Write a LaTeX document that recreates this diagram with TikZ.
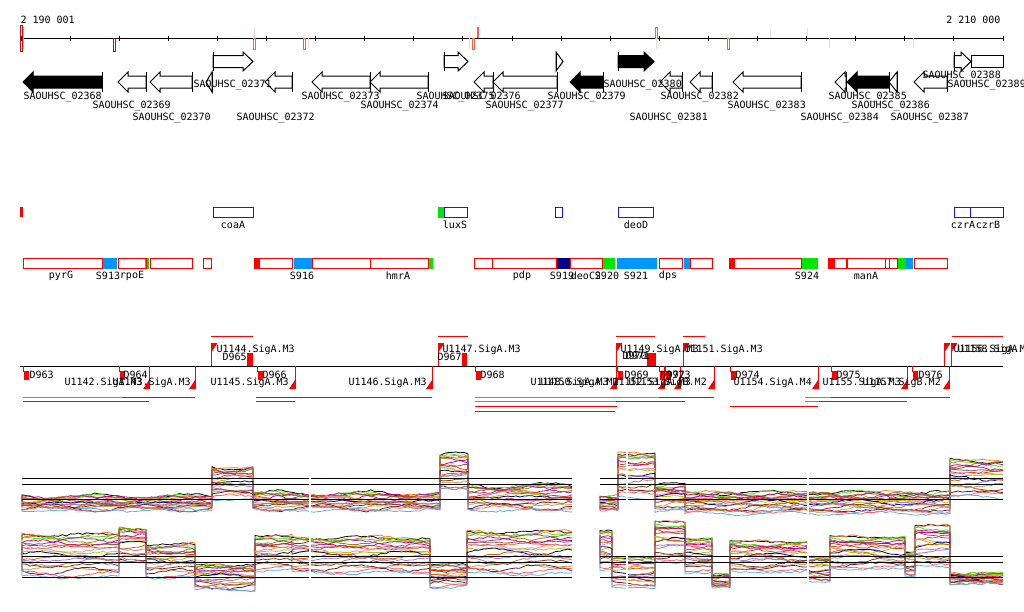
\documentclass[tikz,border=0pt]{standalone}
\usepackage{fontspec}
\newfontfamily\monofont{DejaVu Sans Mono}
\usetikzlibrary{positioning}
\definecolor{deepred}{RGB}{180,20,20}
\definecolor{salmon}{RGB}{240,100,70}
\definecolor{palered}{RGB}{245,215,200}
\definecolor{annblue}{RGB}{20,20,255}
\definecolor{featblue}{RGB}{0,150,255}
\definecolor{featgreen}{RGB}{0,230,0}
\definecolor{featnavy}{RGB}{0,0,140}
% colours of the expression series
\definecolor{sA}{RGB}{230,120,40}
\definecolor{sB}{RGB}{90,220,30}
\definecolor{sC}{RGB}{150,140,0}
\definecolor{sD}{RGB}{150,50,150}
\definecolor{sE}{RGB}{200,0,120}
\definecolor{sF}{RGB}{140,90,60}
\definecolor{sG}{RGB}{90,175,235}
\definecolor{sH}{RGB}{230,60,30}
\definecolor{sI}{RGB}{230,140,180}
\definecolor{sJ}{RGB}{170,200,0}
\definecolor{sK}{RGB}{0,0,110}
\definecolor{sL}{RGB}{210,100,0}
\definecolor{sM}{RGB}{170,120,210}
\definecolor{sN}{RGB}{190,120,120}
\definecolor{sO}{RGB}{120,60,20}
\definecolor{sP}{RGB}{200,160,60}
\definecolor{sQ}{RGB}{100,30,60}
\definecolor{sR}{RGB}{250,90,90}
\newcommand{\revgene}[3][white]{%
   % reverse strand gene: start, end
   \pgfmathsetmacro{\hd}{min(10,#3-#2)}
   \filldraw[fill=#1] (#2,82) -- (#2+\hd,72) -- (#2+\hd,76) -- (#3,76)
      -- (#3,88) -- (#2+\hd,88) -- (#2+\hd,92) -- cycle;
   \draw (#3,72) -- (#3,92);
}
\newcommand{\fwdgene}[3][white]{%
   % forward strand gene: start, end
   \pgfmathsetmacro{\hd}{min(10,#3-#2)}
   \filldraw[fill=#1] (#3,61.5) -- (#3-\hd,52) -- (#3-\hd,55.5) -- (#2,55.5)
      -- (#2,67.5) -- (#3-\hd,67.5) -- (#3-\hd,71) -- cycle;
   \draw (#2,52) -- (#2,71);
}
\newcommand{\tssdn}[1]{%
   \draw[red] (#1,366) -- (#1,389);
   \fill[red] (#1,380) -- (#1,389) -- (#1-6,389) -- cycle;
}
\newcommand{\tssup}[1]{%
   \draw[red] (#1,366) -- (#1,343);
   \fill[red] (#1,343) -- (#1+6,343) -- (#1,352) -- cycle;
}
\newcommand{\dmark}[1]{%
   \draw[red] (#1,366) -- (#1,372);
   \fill[red] (#1+1,371) rectangle (#1+6,380);
}
\newcommand{\profile}[3]{%
   % start x, start y, segments x1/x2/level/spread/samples
   \foreach \scol [count=\i] in {black,sA,sB,sC,sD,sE,sF,sH,sI,sJ,sK,sL,sM,sN,sO,sP,sQ,sR,sG}{
      \pgfmathsetmacro{\k}{((\i-1)/18)^1.3}
      \pgfmathsetmacro{\ph}{rnd*360}
      \pgfmathsetmacro{\amp}{0.5+rnd*3}
      \draw[\scol, line width=0.8pt] (#1,{#2+\k*10})
         \foreach \a/\b/\lv/\sp/\n in {#3}{
            -- plot[domain=\a:\b, samples=\n]
               (\x,{\lv+\k*\sp+\amp*sin(\x*4+\ph)+0.9*rand})
         };
   }
}
\tikzset{
   lab/.style={font=\monofont\fontsize{10}{10}\selectfont, inner sep=0pt, anchor=west},
   clab/.style={lab, anchor=center},
   rowbox/.style={draw=red, line width=1pt},
   annbox/.style={draw=annblue, line width=1pt},
   refline/.style={black, line width=1pt},
}

\begin{document}
\begin{tikzpicture}[x=1pt, y=-1pt, line width=1pt]
\clip (0,0) rectangle (1024,611);
\fill[white] (0,0) rectangle (1024,611);

% coordinate axis
\draw (21,38) -- (1003,38);
\foreach \t in {0,...,20}
   \draw ({21+\t*49.1},35.5) -- ++(0,5.5);
\node[lab] (start) at (20,20) {2 190 001};
\node[lab, anchor=east] (stop) at (1001,20) {2 210 000};

% marks on the axis
\draw[deepred] (20.5,25.5) rectangle (22.5,51);
\draw[salmon!70] (23,27) -- (23,49);
\draw[deepred] (113.5,38) rectangle (115.5,51);
\draw[palered] (254,27) -- (254,38);
\draw[salmon] (253.5,38) rectangle (255.5,49);
\draw[salmon] (303.5,38) rectangle (305.5,49);
\draw[palered] (308.5,38) -- (308.5,48);
\draw[palered] (469,38) -- (469,49);
\draw[salmon] (472.5,38) rectangle (474.5,49);
\draw[salmon, line width=1.3pt] (478,27) -- (478,38);
\draw[salmon] (655.5,27.5) rectangle (657.5,38);
\draw[palered] (656.5,38) -- (656.5,49);
\draw[salmon] (727.5,38) rectangle (729.5,49);
\draw[palered] (770,29) -- (770,38);
\draw[palered] (807,28) -- (807,38);
\draw[palered] (829,38) -- (829,48);
\draw[palered] (913,38) -- (913,48);

% genes
\revgene[black]{23}{102}
\revgene{118}{146}
\revgene{150}{192}
\revgene{206}{212}
\fwdgene{213}{253}
\revgene{265}{292}
\revgene{312}{370}
\revgene{370}{428}
\fwdgene{444}{468}
\revgene{474}{493}
\revgene{493}{557}
\fwdgene{556}{563}
\revgene[black]{570}{603}
\fwdgene[black]{618}{654}
\revgene{660}{682}
\revgene{690}{712}
\revgene{733}{801}
\revgene{835}{846}
\revgene[black]{847}{889}
\revgene{889}{897}
\revgene{914}{947}
\fwdgene{954}{971}
\draw (971,55.5) rectangle (1003,67.5);

\node[lab] (g68) at (23,97) {SAOUHSC\_02368};
\node[lab] (g69) at (92,106) {SAOUHSC\_02369};
\node[lab] (g70) at (132,118) {SAOUHSC\_02370};
\node[lab] (g71) at (193,85) {SAOUHSC\_02371};
\node[lab] (g72) at (236,118) {SAOUHSC\_02372};
\node[lab] (g73) at (301,97) {SAOUHSC\_02373};
\node[lab] (g74) at (360,106) {SAOUHSC\_02374};
\node[lab] (g75) at (416,97) {SAOUHSC\_02375};
\node[lab] (g76) at (442,97) {SAOUHSC\_02376};
\node[lab] (g77) at (485,106) {SAOUHSC\_02377};
\node[lab] (g79) at (547,97) {SAOUHSC\_02379};
\node[lab] (g80) at (603,85) {SAOUHSC\_02380};
\node[lab] (g81) at (629,118) {SAOUHSC\_02381};
\node[lab] (g82) at (660,97) {SAOUHSC\_02382};
\node[lab] (g83) at (727,106) {SAOUHSC\_02383};
\node[lab] (g84) at (800,118) {SAOUHSC\_02384};
\node[lab] (g85) at (828,97) {SAOUHSC\_02385};
\node[lab] (g86) at (851,106) {SAOUHSC\_02386};
\node[lab] (g87) at (890,118) {SAOUHSC\_02387};
\node[lab] (g88) at (922,76) {SAOUHSC\_02388};
\node[lab] (g89) at (947,85) {SAOUHSC\_02389};

% annotated genes
\fill[red] (20,207) rectangle (22.5,217);
\draw[annbox] (213.5,207.5) rectangle (253.5,217.5);
\fill[featgreen] (438,207) rectangle (444,218);
\draw[annbox] (444.5,207.5) rectangle (467.5,217.5);
\draw[annbox] (555.5,207.5) rectangle (562.5,217.5);
\draw[annbox] (618.5,207.5) rectangle (653.5,217.5);
\draw[annbox] (954.5,207.5) rectangle (970.5,217.5);
\draw[annbox] (970.5,207.5) rectangle (1003.5,217.5);
\node[clab] (coaA) at (233,225) {coaA};
\node[clab] (luxS) at (455,225) {luxS};
\node[clab] (deoD) at (636,225) {deoD};
\node[clab] (czrA) at (963,225) {czrA};
\node[clab] (czrB) at (988,225) {czrB};

% operons and features
\fill[featblue] (102,258) rectangle (117,268.5);
\fill[featgreen] (145,258) rectangle (149,268.5);
\fill[red] (254,258) rectangle (259,268.5);
\fill[featblue] (294,258) rectangle (312,268.5);
\fill[featgreen] (428,258) rectangle (433,268.5);
\fill[featnavy] (556,258) rectangle (570,268.5);
\fill[featgreen] (602,258) rectangle (615,268.5);
\fill[featblue] (617,258) rectangle (657,268.5);
\fill[featblue] (684,258) rectangle (690,268.5);
\fill[red] (729,258) rectangle (734,268.5);
\fill[featgreen] (801,258) rectangle (818,268.5);
\fill[red] (828,258) rectangle (834,268.5);
\fill[featgreen] (897,258) rectangle (906,268.5);
\fill[featblue] (906,258) rectangle (913,268.5);
\foreach \a/\b in {23/102,118/146,150/192,203/211,259/292,312/370,370/428,
      474/492,492/556,570/602,659/682,690/712,734/801,834/846,847/885,
      885/889,889/897,914/947}
   \draw[rowbox] (\a+0.5,258.5) rectangle (\b+0.5,268);
\node[clab] (pyrG) at (61,276) {pyrG};
\node[clab] (S913) at (108,276) {S913};
\node[clab] (rpoE) at (132,276) {rpoE};
\node[clab] (S916) at (302,276) {S916};
\node[clab] (hmrA) at (398,276) {hmrA};
\node[clab] (pdp) at (522,276) {pdp};
\node[clab] (S919) at (562,276) {S919};
\node[clab] (deoC) at (586,276) {deoC2};
\node[clab] (S920) at (607,276) {S920};
\node[clab] (S921) at (636,276) {S921};
\node[clab] (dps) at (668,276) {dps};
\node[clab] (S924) at (807,276) {S924};
\node[clab] (manA) at (866,276) {manA};

% transcription start sites
\draw (20,366) -- (1003,366);
\foreach \p in {149,195,295,432,616,664,680,714,818,907,949}
   \tssdn{\p}
\foreach \p in {211,438,616,683,944,951}
   \tssup{\p}
\foreach \p in {23,119,257,475,617,659,665,730,831,912}
   \dmark{\p}
\fill[red] (247,353) rectangle (253,366);
\fill[red] (462,353) rectangle (467,366);
\fill[red] (647,353) rectangle (656,366);
\foreach \a/\b in {211/253,438/468,616/655,683/705,952/1003}
   \draw[red] (\a,336) -- (\b,336);
\node[lab] (u44) at (216,350) {U1144.SigA.M3};
\node[lab] (u47) at (442,350) {U1147.SigA.M3};
\node[lab] (u49) at (620,350) {U1149.SigA.M3};
\node[lab] (u51) at (684,350) {U1151.SigA.M3};
\node[lab] (u56) at (953,350) {U1156.SigA.M3};
\node[lab] (u58) at (957,350) {U1158.SigA.M1};
\node[lab] (d65) at (222,357) {D965};
\node[lab] (d67) at (437,357) {D967};
\node[lab] (d70) at (622,356) {D970};
\node[lab] (d71) at (625,356) {D971};
\node[lab] (d63) at (29,375) {D963};
\node[lab] (d64) at (123,375) {D964};
\node[lab] (d66) at (262,375) {D966};
\node[lab] (d68) at (480,375) {D968};
\node[lab] (d69) at (624,375) {D969};
\node[lab] (d72) at (660,375) {D972};
\node[lab] (d73) at (666,375) {D973};
\node[lab] (d74) at (735,375) {D974};
\node[lab] (d75) at (836,375) {D975};
\node[lab] (d76) at (918,375) {D976};
\node[lab] (u42) at (64,383) {U1142.SigA.M3};
\node[lab] (u43) at (112,383) {U1143.SigA.M3};
\node[lab] (u45) at (210,383) {U1145.SigA.M3};
\node[lab] (u46) at (348,383) {U1146.SigA.M3};
\node[lab] (u48) at (530,383) {U1148.SigA.M3};
\node[lab] (u50) at (540,383) {U1150.SigA.M1};
\node[lab] (u52) at (612,383) {U1152.SigA.M3};
\node[lab] (u53) at (628,383) {U1153.SigB.M2};
\node[lab] (u54) at (733,383) {U1154.SigA.M4};
\node[lab] (u55) at (822,383) {U1155.SigA.M3};
\node[lab] (u57) at (862,383) {U1157.SigB.M2};

% transcripts
\draw[featgreen] (23,397) -- (122,397);
\draw[red] (122,397) -- (195,397);
\draw[red] (23,401) -- (149,401);
\draw[red] (256,397) -- (432,397);
\draw[red] (256,401) -- (295,401);
\draw[featgreen] (475,397) -- (659,397);
\draw[red] (659,397) -- (714,397);
\draw[featgreen] (475,401) -- (616,401);
\draw[red] (616,401) -- (685,401);
\draw[red] (475,406) -- (617,406);
\draw[red] (475,411) -- (615,411);
\draw[red] (730,406) -- (818,406);
\draw[featgreen] (805,397) -- (831,397);
\draw[red] (831,397) -- (950,397);
\draw[featgreen] (805,401) -- (819,401);
\draw[red] (819,401) -- (907,401);

% expression profiles
\pgfmathsetseed{11}
\profile{22}{500}{22/212/497/13/48, 212/253/467/32/11, 253/440/494/16/47,
   440/468/456/33/8, 468/572/486/24/27}
\profile{600}{498}{600/618/497/14/5, 618/655/453/44/10, 655/685/485/25/8,
   685/950/493/20/67, 950/1003/461/36/14}
\profile{22}{540}{22/119/535/42/25, 119/146/528/35/8, 146/195/545/32/13,
   195/255/565/25/15, 255/292/537/33/10, 292/430/538/35/35,
   430/467/565/22/10, 467/572/532/42/27}
\profile{600}{533}{600/612/530/40/4, 612/655/558/30/11, 655/685/522/40/8,
   685/712/538/35/7, 712/730/575/13/5, 730/808/542/30/20, 808/830/557/25/6,
   830/905/537/32/19, 905/915/552/25/3, 915/950/526/40/9, 950/1003/574/10/14}
\foreach \y in {478,484,499,556,562,577}{
   \draw[refline] (22,\y) -- (572,\y);
   \draw[refline] (600,\y) -- (1003,\y);
}
\foreach \x in {310,627,808}
   \draw[white, line width=1.5pt] (\x,448) -- (\x,600);

\end{tikzpicture}
\end{document}
